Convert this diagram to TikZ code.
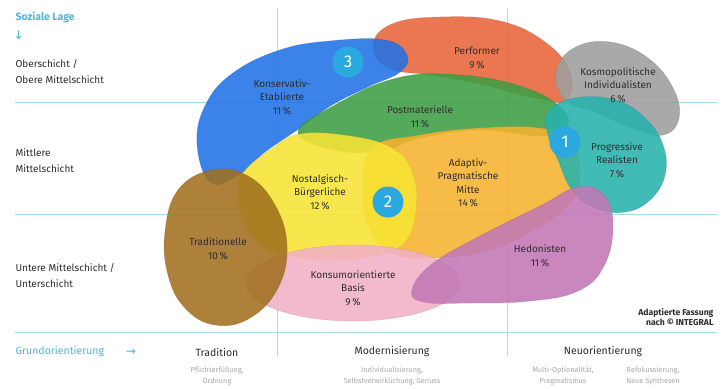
\documentclass[tikz,border=0pt]{standalone}
\usepackage{fontspec}
\setmainfont{Fira Sans}
\newfontfamily\symfont{DejaVu Sans}
\usepackage{tikz}

\definecolor{gridline}{HTML}{A9DCE8}
\definecolor{headcyan}{HTML}{4DB6D3}
\definecolor{numcyan}{HTML}{2AA8DF}
\definecolor{ink}{HTML}{2E2E2E}
\definecolor{note}{HTML}{A8A8A8}
\definecolor{cPerf}{HTML}{E8653A}
\definecolor{cKosmo}{HTML}{9E9E9E}
\definecolor{cKons}{HTML}{2172E6}
\definecolor{cPost}{HTML}{3E9E45}
\definecolor{cNost}{HTML}{F8E434}
\definecolor{cAdap}{HTML}{F6B22E}
\definecolor{cProg}{HTML}{26B2AD}
\definecolor{cKonsum}{HTML}{F2B0C6}
\definecolor{cHedo}{HTML}{C277B6}
\definecolor{cTrad}{HTML}{A2701F}

\begin{document}
\begin{tikzpicture}[x=1pt, y=-1pt,
    grid/.style = {draw=gridline, line width=.8pt},
    blob/.style = {fill=#1, draw=#1!80!black, fill opacity=.88, draw opacity=.4, line width=.5pt},
    lbl/.style = {align=center, text=ink, font=\fontsize{10}{13.5}\selectfont},
    side/.style = {anchor=west, align=left, text=ink, font=\fontsize{10}{16}\selectfont},
    axis/.style = {text=ink, font=\fontsize{10.5}{12}\selectfont},
    hint/.style = {align=center, text=note, font=\fontsize{7.3}{11}\selectfont},
    num/.style = {circle, fill=numcyan, text=white, minimum size=31pt, inner sep=0pt, font=\fontsize{17}{17}\selectfont}]
  \useasboundingbox[fill=white] (0,0) rectangle (722,388);

  % grid
  \draw[grid] (15,102) -- (717,102);
  \draw[grid] (15,214) -- (717,214);
  \draw[grid] (15,332) -- (717,332);
  \draw[grid] (277,8) -- (277,356);
  \draw[grid] (507,8) -- (507,356);

  % milieus
  \draw[blob=cPerf] plot[smooth cycle, tension=.7] coordinates {(373,45) (392,24) (440,17) (500,21) (545,42) (570,72) (566,100) (535,98) (480,84) (430,75) (388,68)};
  \draw[blob=cKosmo] plot[smooth cycle, tension=.7] coordinates {(556,72) (574,48) (610,42) (648,58) (673,88) (679,118) (663,135) (632,128) (595,112) (565,100)};
  \draw[blob=cKons] plot[smooth cycle, tension=.7] coordinates {(197,143) (206,104) (233,73) (280,50) (330,41) (385,40) (407,55) (400,72) (370,86) (332,105) (300,128) (265,152) (237,176) (210,182)};
  \draw[blob=cPost] plot[smooth cycle, tension=.7] coordinates {(298,133) (335,105) (397,78) (460,75) (520,86) (558,105) (568,125) (545,136) (480,130) (420,138) (385,150) (340,151)};
  \draw[blob=cAdap] plot[smooth cycle, tension=.7] coordinates {(372,148) (420,135) (480,128) (540,128) (570,140) (580,170) (572,200) (540,226) (490,250) (430,258) (390,252) (368,225) (363,190)};
  \draw[blob=cNost] plot[smooth cycle, tension=.7] coordinates {(238,195) (244,172) (270,150) (300,134) (350,136) (392,148) (412,172) (416,210) (402,245) (360,258) (300,258) (255,240)};
  \draw[blob=cProg] plot[smooth cycle, tension=.7] coordinates {(548,112) (575,98) (615,100) (645,118) (663,145) (665,175) (650,200) (625,212) (595,208) (572,190) (558,160) (548,135)};
  \draw[blob=cKonsum] (353,283) ellipse [x radius=107, y radius=38];
  \draw[blob=cHedo] plot[smooth cycle, tension=.7] coordinates {(412,290) (432,264) (480,236) (540,206) (578,187) (604,195) (613,226) (604,266) (578,291) (530,301) (470,303) (424,302)};
  \draw[blob=cTrad] plot[smooth cycle, tension=.7] coordinates {(165,232) (178,190) (212,170) (248,176) (275,205) (287,246) (278,288) (250,318) (215,325) (185,308) (168,275)};

  \node[num] (n3) at (348,62) {3};
  \node[num] (n1) at (565,142) {1};
  \node[num] (n2) at (388,202) {2};

  \node[lbl] (kons) at (282,97) {Konservativ-\\Etablierte\\11\,\%};
  \node[lbl] (perf) at (477,58) {Performer\\9\,\%};
  \node[lbl] (kosmo) at (618,85) {Kosmopolitische\\Individualisten\\6\,\%};
  \node[lbl] (post) at (420,117) {Postmaterielle\\11\,\%};
  \node[lbl] (prog) at (617,160) {Progressive\\Realisten\\7\,\%};
  \node[lbl] (nost) at (320,192) {Nostalgisch-\\Bürgerliche\\12\,\%};
  \node[lbl] (adap) at (468,183) {Adaptiv-\\Pragmatische\\Mitte\\14\,\%};
  \node[lbl] (trad) at (218,249) {Traditionelle\\10\,\%};
  \node[lbl] (konsum) at (353,288) {Konsumorientierte\\Basis\\9\,\%};
  \node[lbl] (hedo) at (540,256) {Hedonisten\\11\,\%};

  % left axis
  \node[anchor=west, text=headcyan, font=\fontsize{10.5}{12}\selectfont\bfseries] (lage) at (12,17) {Soziale Lage};
  \node[anchor=west, text=headcyan, font=\fontsize{12}{14}\symfont] (down) at (10,35) {↓};
  \node[side] (ober) at (12,72) {Oberschicht /\\Obere Mittelschicht};
  \node[side] (mitte) at (12,161) {Mittlere\\Mittelschicht};
  \node[side] (unter) at (12,276) {Untere Mittelschicht /\\Unterschicht};

  % bottom axis
  \node[anchor=west, text=headcyan, font=\fontsize{10.5}{12}\selectfont] (grund) at (12,352) {Grundorientierung};
  \node[text=headcyan, font=\fontsize{12}{14}\symfont] (right) at (131,352) {→};
  \node[axis] (trad-ax) at (217,352) {Tradition};
  \node[axis] (mod-ax) at (392,352) {Modernisierung};
  \node[axis] (neu-ax) at (603,352) {Neuorientierung};
  \node[hint] (trad-h) at (217,376) {Pflichterfüllung,\\Ordnung};
  \node[hint] (mod-h) at (392,376) {Individualisierung,\\Selbstverwirklichung, Genuss};
  \node[hint] (neu-h1) at (563,376) {Multi-Optionalität,\\Pragmatismus};
  \node[hint] (neu-h2) at (653,376) {Refokussierung,\\Neue Synthesen};

  \node[anchor=east, align=right, text=ink, font=\fontsize{8.6}{10.5}\selectfont\bfseries] (src) at (717,317) {Adaptierte Fassung\\nach © INTEGRAL};
\end{tikzpicture}
\end{document}
